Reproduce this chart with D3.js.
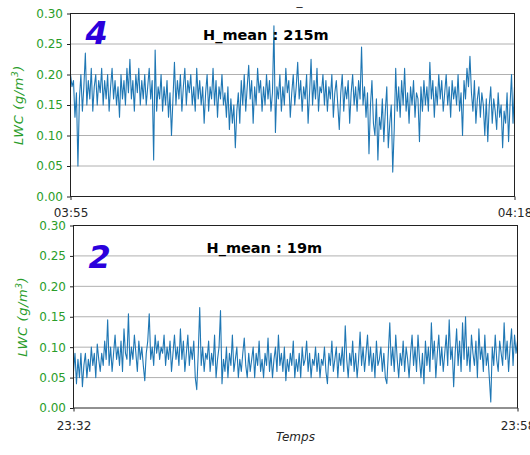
<!DOCTYPE html>
<html>
<head>
<meta charset="utf-8">
<script src="https://cdn.jsdelivr.net/npm/d3@7"></script>
<style>
  html, body { margin: 0; padding: 0; background: #fff; }
  svg { display: block; }
  text { font-family: "DejaVu Sans", sans-serif; }
</style>
</head>
<body>
<svg id="chart" width="530" height="455"></svg>
<script>
// ---------------- DATA ----------------
const yTicks = [0, 0.05, 0.10, 0.15, 0.20, 0.25, 0.30];

const topLabel = "4";
const topTitle = "H_mean : 215m";
const topTimeRange = ["03:55", "04:18"];
const topValues = [
  0.20,0.18,0.19,0.13,0.17,0.05,0.16,0.20,0.14,0.18,
  0.235,0.15,0.19,0.16,0.21,0.14,0.18,0.20,0.15,0.19,
  0.17,0.21,0.15,0.19,0.16,0.20,0.14,0.18,0.21,0.16,
  0.19,0.15,0.18,0.13,0.20,0.16,0.19,0.15,0.21,0.17,
  0.225,0.16,0.19,0.14,0.20,0.17,0.21,0.15,0.19,0.16,
  0.20,0.15,0.18,0.21,0.16,0.19,0.06,0.24,0.14,0.18,
  0.16,0.20,0.14,0.18,0.15,0.19,0.13,0.17,0.10,0.16,
  0.22,0.15,0.19,0.16,0.20,0.14,0.18,0.21,0.15,0.19,
  0.17,0.20,0.15,0.18,0.14,0.21,0.16,0.19,0.15,0.18,
  0.12,0.17,0.20,0.14,0.18,0.16,0.21,0.15,0.19,0.13,
  0.18,0.16,0.20,0.15,0.17,0.13,0.18,0.11,0.16,0.12,
  0.15,0.08,0.14,0.17,0.12,0.19,0.15,0.20,0.14,0.18,
  0.215,0.16,0.19,0.12,0.18,0.15,0.21,0.17,0.19,0.14,
  0.18,0.15,0.20,0.16,0.19,0.14,0.17,0.28,0.105,0.18,
  0.16,0.20,0.14,0.18,0.15,0.21,0.17,0.19,0.13,0.17,
  0.20,0.15,0.18,0.22,0.16,0.19,0.14,0.18,0.16,0.20,
  0.12,0.17,0.225,0.15,0.19,0.16,0.21,0.14,0.18,0.17,
  0.20,0.15,0.19,0.14,0.18,0.16,0.20,0.13,0.17,0.19,
  0.15,0.11,0.17,0.20,0.14,0.18,0.16,0.19,0.12,0.17,
  0.20,0.15,0.18,0.14,0.19,0.16,0.245,0.15,0.18,0.13,
  0.17,0.07,0.15,0.19,0.12,0.10,0.16,0.06,0.13,0.11,
  0.16,0.09,0.14,0.18,0.08,0.12,0.15,0.04,0.11,0.21,
  0.14,0.18,0.13,0.19,0.15,0.21,0.14,0.17,0.12,0.18,
  0.15,0.19,0.13,0.17,0.16,0.09,0.18,0.14,0.19,0.15,
  0.18,0.14,0.22,0.16,0.19,0.13,0.18,0.15,0.20,0.16,
  0.19,0.14,0.17,0.20,0.15,0.18,0.13,0.19,0.16,0.18,
  0.15,0.20,0.14,0.17,0.10,0.19,0.16,0.21,0.18,0.23,
  0.17,0.14,0.19,0.12,0.16,0.18,0.13,0.17,0.15,0.10,
  0.16,0.09,0.15,0.18,0.12,0.16,0.14,0.11,0.17,0.13,
  0.15,0.08,0.14,0.12,0.17,0.09,0.15,0.20,0.12,0.18
];

const bottomLabel = "2";
const bottomTitle = "H_mean : 19m";
const bottomTimeRange = ["23:32", "23:58"];
const bottomValues = [
  0.06,0.09,0.04,0.08,0.05,0.09,0.035,0.07,0.09,0.05,
  0.08,0.06,0.10,0.07,0.09,0.05,0.105,0.08,0.06,0.09,
  0.07,0.11,0.08,0.145,0.07,0.10,0.06,0.09,0.12,0.08,
  0.10,0.07,0.11,0.06,0.13,0.09,0.08,0.155,0.07,0.10,
  0.08,0.12,0.09,0.06,0.11,0.08,0.10,0.07,0.045,0.09,
  0.11,0.155,0.08,0.10,0.07,0.12,0.09,0.11,0.08,0.10,
  0.09,0.12,0.07,0.10,0.08,0.11,0.06,0.09,0.12,0.08,
  0.10,0.07,0.13,0.08,0.11,0.06,0.09,0.12,0.07,0.10,
  0.08,0.11,0.05,0.03,0.09,0.165,0.07,0.10,0.06,0.09,
  0.08,0.11,0.06,0.09,0.07,0.12,0.05,0.08,0.10,0.16,
  0.04,0.08,0.06,0.10,0.05,0.09,0.07,0.12,0.06,0.08,
  0.10,0.05,0.08,0.06,0.09,0.115,0.07,0.05,0.09,0.06,
  0.08,0.10,0.05,0.09,0.07,0.11,0.06,0.08,0.05,0.09,
  0.07,0.115,0.06,0.09,0.05,0.08,0.10,0.06,0.12,0.07,
  0.09,0.06,0.10,0.045,0.08,0.06,0.09,0.07,0.11,0.05,
  0.08,0.06,0.09,0.05,0.10,0.07,0.08,0.11,0.06,0.09,
  0.05,0.08,0.07,0.10,0.06,0.09,0.05,0.08,0.07,0.10,
  0.06,0.04,0.09,0.07,0.11,0.06,0.08,0.10,0.05,0.09,
  0.07,0.10,0.06,0.135,0.08,0.05,0.09,0.07,0.11,0.06,
  0.09,0.05,0.08,0.125,0.07,0.10,0.06,0.09,0.12,0.07,
  0.10,0.06,0.09,0.05,0.11,0.07,0.08,0.10,0.06,0.09,
  0.05,0.04,0.09,0.14,0.07,0.10,0.06,0.12,0.08,0.05,
  0.09,0.07,0.11,0.06,0.10,0.08,0.05,0.09,0.12,0.07,
  0.10,0.06,0.12,0.08,0.05,0.09,0.04,0.11,0.07,0.10,
  0.06,0.14,0.08,0.11,0.05,0.09,0.12,0.07,0.10,0.06,
  0.09,0.12,0.07,0.145,0.08,0.10,0.035,0.09,0.13,0.07,
  0.11,0.06,0.14,0.08,0.15,0.07,0.10,0.06,0.12,0.09,
  0.07,0.11,0.05,0.13,0.08,0.10,0.06,0.12,0.07,0.09,
  0.05,0.01,0.10,0.07,0.12,0.08,0.06,0.11,0.09,0.07,
  0.14,0.08,0.11,0.06,0.10,0.13,0.07,0.12,0.09,0.11
];

const xAxisTitle = "Temps";
const yAxisTitle = "LWC (g/m³)";
const topMark = "_";

// ---------------- DRAW ----------------
const svg = d3.select("#chart");
svg.append("rect").attr("width", 530).attr("height", 455).attr("fill", "#fff");

const greenCol = "#2a9d2a";
const lineCol = "#1f77b4";

function parseT(s, dayOffset) {
  const [h, m] = s.split(":").map(Number);
  return new Date(2020, 0, 1 + (dayOffset || 0), h, m, 0);
}

function panel(cfg) {
  const { left, right, top, bottom, values, range, label, title, labelBase, titleBase, tickBase } = cfg;
  const t0 = parseT(range[0]), t1 = parseT(range[1]);
  const x = d3.scaleTime().domain([t0, t1]).range([left, right]);
  const y = d3.scaleLinear().domain([0, 0.30]).range([bottom, top]);
  const step = (t1 - t0) / (values.length - 1);
  const data = values.map((v, i) => ({ t: new Date(+t0 + i * step), v }));

  const g = svg.append("g");

  // grid
  g.selectAll("line.grid").data(yTicks.filter(d => d > 0 && d < 0.30)).enter()
    .append("line").attr("class", "grid")
    .attr("x1", left).attr("x2", right)
    .attr("y1", d => y(d)).attr("y2", d => y(d))
    .attr("stroke", "#b0b0b0").attr("stroke-width", 1);

  // line
  g.append("path").datum(data)
    .attr("fill", "none").attr("stroke", lineCol).attr("stroke-width", 1.1)
    .attr("stroke-linejoin", "round")
    .attr("d", d3.line().x(d => x(d.t)).y(d => y(d.v)));

  // frame
  g.append("rect").attr("x", left).attr("y", top)
    .attr("width", right - left).attr("height", bottom - top)
    .attr("fill", "none").attr("stroke", "#222").attr("stroke-width", 1);

  // y axis
  const ya = g.append("g").attr("transform", `translate(${left},0)`)
    .call(d3.axisLeft(y).tickValues(yTicks).tickFormat(d3.format(".2f")).tickSize(3.5).tickPadding(4));
  ya.select(".domain").remove();
  ya.selectAll(".tick line").attr("stroke", "#222");
  ya.selectAll(".tick text").attr("fill", greenCol).style("font-size", "12px")
    .style("font-family", "'DejaVu Sans', sans-serif");

  // x axis
  const xa = g.append("g").attr("transform", `translate(0,${bottom})`)
    .call(d3.axisBottom(x).tickValues([t0, t1]).tickFormat(d3.timeFormat("%H:%M")).tickSize(3.5).tickPadding(4));
  xa.select(".domain").remove();
  xa.selectAll(".tick line").attr("stroke", "#222");
  xa.selectAll(".tick text").attr("fill", "#262626").style("font-size", "12px")
    .style("font-family", "'DejaVu Sans', sans-serif")
    .attr("dy", null).attr("y", tickBase - bottom);

  // big number label
  g.append("text").attr("x", left + 15).attr("y", labelBase)
    .attr("fill", "#2a00dc").style("font-size", "32px").style("font-weight", "bold").style("font-style", "italic")
    .text(label);

  // title
  g.append("text").attr("x", cfg.titleX).attr("y", titleBase)
    .attr("fill", "#000").style("font-size", "14.5px").style("font-weight", "bold")
    .text(title);

  // y axis title
  const yt = g.append("text")
    .attr("transform", `translate(${cfg.yTitleX},${(top + bottom) / 2}) rotate(-90)`)
    .attr("text-anchor", "middle").attr("fill", greenCol)
    .style("font-size", "13px").style("font-style", "italic").style("letter-spacing", "0.6px");
  yt.append("tspan").text(yAxisTitle.replace("³)", ""));
  yt.append("tspan").attr("dy", -5).style("font-size", "9px").text("3");
  yt.append("tspan").attr("dy", 5).text(")");

  return { x, y };
}

panel({ left: 70.5, right: 514.5, top: 13.5, bottom: 196.5, values: topValues, range: topTimeRange,
  label: topLabel, title: topTitle, labelBase: 44, titleBase: 40, tickBase: 216.5, titleX: 203, yTitleX: 23 });
panel({ left: 73.5, right: 517.5, top: 225.5, bottom: 408, values: bottomValues, range: bottomTimeRange,
  label: bottomLabel, title: bottomTitle, labelBase: 268, titleBase: 253, tickBase: 430, titleX: 206.5, yTitleX: 27 });

// x axis title
svg.append("text").attr("x", 295.5).attr("y", 441).attr("text-anchor", "middle")
  .attr("fill", "#262626").style("font-size", "12px").style("font-style", "italic").text(xAxisTitle);

// small mark at top
svg.append("text").attr("x", 299.5).attr("y", 5).attr("text-anchor", "middle")
  .attr("fill", "#262626").style("font-size", "12px").text(topMark);
</script>
</body>
</html>
